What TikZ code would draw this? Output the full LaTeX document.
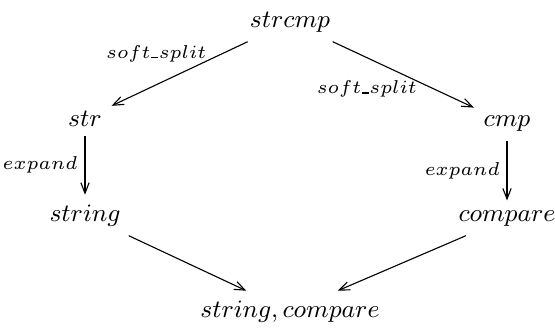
\documentclass[tikz,border=0pt]{standalone}
\usepackage{fix-cm}
\usetikzlibrary{arrows.meta}
\newcommand{\usc}{\kern0.03em\rule[-0.1pt]{0.38em}{0.6pt}\kern0.03em}
\begin{document}
\begin{tikzpicture}[x=0.36pt,y=-0.36pt,
  every node/.style={font=\fontsize{9}{11}\selectfont},
  lbl/.style={font=\fontsize{6.7}{8}\selectfont, inner sep=1pt},
  edge/.style={draw, -{Straight Barb[length=3.8pt,width=3pt]}, line width=0.4pt}]
\useasboundingbox (0,0) rectangle (555,331);
\node[anchor=base] (strcmp) at (290,27) {$strcmp$};
\node[anchor=base] (str) at (85,126) {$str$};
\node[anchor=base] (cmp) at (507,126) {$cmp$};
\node[anchor=base] (string) at (85,221) {$string$};
\node[anchor=base] (compare) at (507,221) {$compare$};
\node[anchor=base] (sc) at (290,317) {$string, compare$};
\draw[edge] (strcmp) -- node[lbl, pos=0.3, anchor=south east, xshift=1pt, yshift=-1.5pt] {$soft$\usc$split$} (str);
\draw[edge] (strcmp) -- node[lbl, pos=0.62, anchor=north east, yshift=2pt] {$soft$\usc$split$} (cmp);
\draw[edge] (str) -- node[lbl, left=1.5pt] {$expand$} (string);
\draw[edge] (cmp) -- node[lbl, left=1.5pt] {$expand$} (compare);
\draw[edge] (string) -- (sc);
\draw[edge] (compare) -- (sc);
\end{tikzpicture}
\end{document}
